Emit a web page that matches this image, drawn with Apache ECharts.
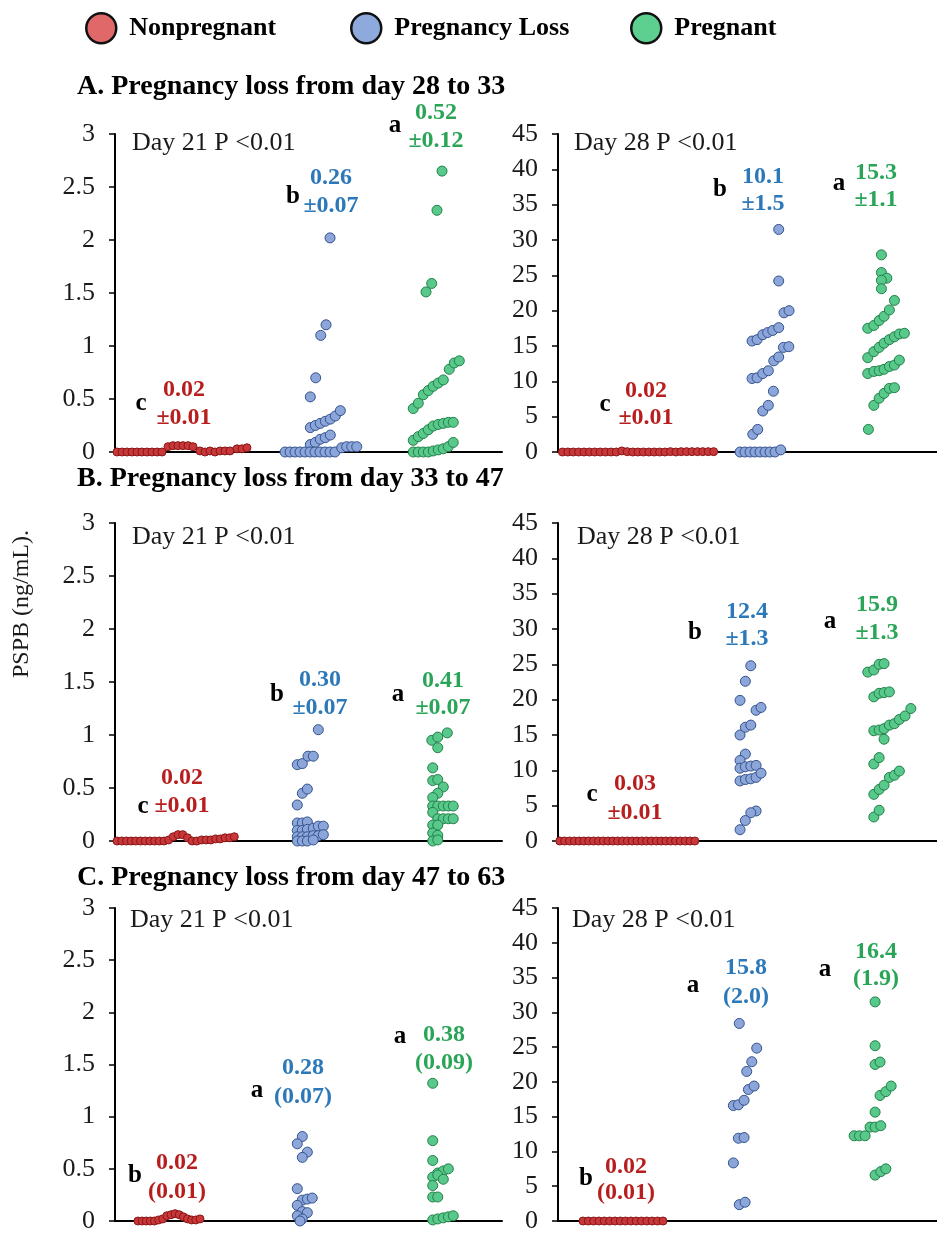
<!DOCTYPE html>
<html><head><meta charset="utf-8">
<script src="https://cdn.jsdelivr.net/npm/echarts@6/dist/echarts.min.js"></script>
<style>html,body{margin:0;padding:0;background:#fff}#c{width:937px;height:1234px}</style>
</head><body><div id="c"></div>
<script>
// ---------- labels ----------
const groupNames = ['Nonpregnant', 'Pregnancy Loss', 'Pregnant'];
const panelTitles = ['A. Pregnancy loss from day 28 to 33', 'B. Pregnancy loss from day 33 to 47', 'C. Pregnancy loss from day 47 to 63'];
const dayLabels = ['Day 21 P <0.01', 'Day 28 P <0.01'];
const yAxisName = 'PSPB (ng/mL).';
const day21Range = [0, 3, 0.5];
const day28Range = [0, 45, 5];

// ---------- data: [x position (1 = Nonpregnant, 2 = Pregnancy Loss, 3 = Pregnant, plus jitter), PSPB ng/mL] ----------
// Panel A, Day 21
const A21_non = [[0.516,0],[0.554,0],[0.593,0],[0.632,0],[0.671,0],[0.709,0],[0.748,0],[0.787,0],[0.826,0],[0.864,0],[0.911,0.05],[0.950,0.06],[0.988,0.06],[1.027,0.06],[1.066,0.06],[1.105,0.05],[1.159,0.01],[1.198,0],[1.236,0.01],[1.275,0],[1.314,0.01],[1.353,0.01],[1.391,0.01],[1.446,0.03],[1.484,0.03],[1.523,0.04]];
const A21_loss = [[2.167,2.02],[2.136,1.20],[2.095,1.10],[2.056,0.70],[2.014,0.52],[2.014,0.23],[2.053,0.25],[2.091,0.27],[2.130,0.29],[2.169,0.31],[2.208,0.34],[2.247,0.39],[2.014,0.07],[2.053,0.09],[2.091,0.12],[2.130,0.135],[2.169,0.16],[1.818,0],[1.857,0],[1.895,0],[1.934,0],[1.973,0],[2.012,0],[2.050,0],[2.089,0],[2.128,0],[2.167,0],[2.205,0],[2.257,0.04],[2.296,0.05],[2.335,0.05],[2.374,0.05]];
const A21_preg = [[3.035,2.65],[2.996,2.28],[2.955,1.59],[2.911,1.51],[2.812,0.41],[2.851,0.46],[2.890,0.54],[2.929,0.58],[2.967,0.62],[3.006,0.65],[3.045,0.68],[3.091,0.78],[3.130,0.84],[3.169,0.86],[2.812,0.11],[2.851,0.145],[2.890,0.175],[2.929,0.21],[2.967,0.245],[3.006,0.26],[3.045,0.27],[3.084,0.28],[3.122,0.28],[2.812,0],[2.851,0],[2.890,0],[2.929,0],[2.967,0.01],[3.006,0.02],[3.045,0.03],[3.084,0.05],[3.122,0.09]];
// Panel A, Day 28
const A28_non = [[0.492,0],[0.535,0],[0.578,0],[0.620,0],[0.663,0],[0.706,0],[0.749,0],[0.791,0],[0.834,0],[0.877,0],[0.920,0],[0.962,0],[1.005,0.15],[1.048,0.05],[1.091,0],[1.133,0],[1.176,0],[1.219,0],[1.262,0],[1.304,0],[1.347,0],[1.390,0.05],[1.433,0],[1.475,0.05],[1.518,0.05],[1.561,0.05],[1.604,0.05],[1.646,0.05],[1.689,0.05],[1.732,0.05]];
const A28_loss = [[2.247,31.5],[2.247,24.2],[2.289,19.7],[2.329,20.0],[2.036,15.7],[2.076,15.9],[2.121,16.6],[2.160,16.9],[2.200,17.2],[2.247,17.6],[2.284,14.8],[2.327,14.9],[2.208,12.9],[2.247,13.45],[2.036,10.4],[2.076,10.5],[2.121,11.1],[2.165,11.5],[2.205,8.6],[2.121,5.8],[2.165,6.6],[2.042,2.5],[2.081,3.2],[1.941,0],[1.980,0],[2.020,0],[2.059,0],[2.099,0],[2.139,0],[2.178,0],[2.218,0],[2.263,0.3]];
const A28_preg = [[3.060,27.9],[3.060,25.4],[3.103,24.6],[3.060,24.3],[3.060,23.1],[3.163,21.45],[2.952,17.5],[3.000,17.9],[3.042,18.6],[3.081,19.2],[3.123,20.1],[2.952,13.35],[3.000,14.2],[3.042,14.8],[3.081,15.4],[3.123,15.9],[3.163,16.3],[3.202,16.7],[3.242,16.8],[2.952,11.1],[3.000,11.4],[3.042,11.5],[3.081,11.7],[3.123,12.1],[3.163,12.3],[3.202,13.0],[3.000,6.6],[3.042,7.6],[3.081,8.3],[3.123,9.0],[3.163,9.1],[2.957,3.2]];
// Panel B, Day 21
const B21_non = [[0.516,0],[0.552,0],[0.589,0],[0.625,0],[0.661,0],[0.698,0],[0.734,0],[0.771,0],[0.807,0],[0.843,0],[0.880,0],[0.916,0.01],[0.952,0.04],[0.989,0.06],[1.025,0.06],[1.062,0.03],[1.098,0],[1.134,0],[1.171,0.01],[1.207,0.01],[1.243,0.01],[1.280,0.02],[1.316,0.02],[1.353,0.03],[1.389,0.03],[1.425,0.04]];
const B21_loss = [[2.076,1.05],[1.913,0.72],[1.952,0.73],[1.996,0.80],[2.037,0.80],[1.952,0.45],[1.991,0.49],[1.913,0.34],[1.913,0.17],[1.952,0.17],[1.991,0.18],[1.913,0.10],[1.952,0.10],[1.991,0.11],[2.037,0.12],[2.076,0.14],[2.115,0.14],[1.913,0.04],[1.952,0.04],[1.991,0.04],[2.037,0.05],[2.076,0.05],[2.115,0.06],[1.913,0],[1.952,0],[1.991,0],[2.037,0.01]];
const B21_preg = [[3.076,1.02],[2.956,0.95],[3.002,0.98],[3.002,0.88],[2.963,0.69],[2.963,0.57],[3.002,0.58],[3.045,0.51],[3.002,0.45],[2.963,0.41],[2.963,0.33],[3.002,0.33],[3.045,0.33],[3.084,0.33],[3.122,0.33],[2.963,0.27],[3.002,0.21],[3.045,0.21],[3.084,0.21],[3.122,0.21],[2.963,0.15],[3.002,0.15],[2.963,0.075],[3.002,0.054],[2.963,0],[3.002,0.01]];
// Panel B, Day 28
const B28_non = [[0.476,0],[0.514,0],[0.552,0],[0.591,0],[0.629,0],[0.667,0],[0.705,0],[0.743,0],[0.781,0],[0.820,0],[0.858,0],[0.896,0],[0.934,0],[0.972,0],[1.010,0],[1.049,0],[1.087,0],[1.125,0],[1.163,0],[1.201,0],[1.239,0],[1.278,0],[1.316,0],[1.354,0],[1.392,0],[1.430,0],[1.468,0],[1.507,0],[1.545,0],[1.583,0]];
const B28_loss = [[2.026,24.8],[1.983,22.6],[1.941,19.9],[2.068,18.5],[2.107,18.9],[1.941,15.0],[1.983,16.1],[2.026,16.4],[1.983,12.3],[1.941,11.4],[1.941,10.3],[1.983,10.5],[2.026,10.6],[2.068,10.7],[1.941,8.5],[1.983,8.7],[2.026,8.8],[2.068,9.0],[2.107,9.6],[2.068,4.25],[2.026,4.0],[1.983,2.9],[1.941,1.6]];
const B28_preg = [[2.952,23.9],[3.000,24.2],[3.042,25.0],[3.081,25.1],[3.000,20.4],[3.042,20.9],[3.081,21.0],[3.123,21.1],[3.000,15.6],[3.042,15.7],[3.081,15.9],[3.123,16.4],[3.163,16.6],[3.202,17.2],[3.247,17.7],[3.293,18.75],[3.081,14.4],[3.000,10.9],[3.042,11.8],[3.000,6.6],[3.042,7.3],[3.081,7.9],[3.123,9.0],[3.163,9.3],[3.202,9.9],[3.000,3.4],[3.042,4.35]];
// Panel C, Day 21
const C21_non = [[0.678,0],[0.710,0],[0.742,0],[0.774,0],[0.806,0],[0.838,0.01],[0.870,0.02],[0.902,0.05],[0.934,0.06],[0.966,0.07],[0.998,0.06],[1.030,0.04],[1.062,0.02],[1.094,0.01],[1.126,0.01],[1.159,0.02]];
const C21_loss = [[1.952,0.81],[1.913,0.74],[1.991,0.66],[1.952,0.61],[1.913,0.31],[1.952,0.20],[1.991,0.21],[2.029,0.22],[1.913,0.15],[1.952,0.09],[1.991,0.08],[1.913,0.05],[1.952,0.02],[1.934,0]];
const C21_preg = [[2.963,1.32],[2.963,0.77],[2.963,0.58],[3.002,0.46],[3.045,0.48],[3.084,0.50],[2.963,0.42],[3.002,0.44],[3.045,0.40],[2.963,0.34],[2.963,0.23],[3.002,0.23],[2.963,0.01],[3.002,0.02],[3.045,0.03],[3.084,0.04],[3.122,0.05]];
// Panel C, Day 28
const C28_non = [[0.698,0],[0.740,0],[0.782,0],[0.824,0],[0.866,0],[0.909,0],[0.951,0],[0.993,0],[1.035,0],[1.077,0],[1.119,0],[1.161,0],[1.203,0],[1.245,0],[1.288,0],[1.331,0]];
const C28_loss = [[1.935,28.4],[2.073,24.85],[2.034,22.9],[1.994,21.5],[2.007,18.9],[2.052,19.4],[1.888,16.6],[1.928,16.7],[1.973,17.35],[1.928,11.9],[1.973,12.0],[1.888,8.35],[1.935,2.35],[1.981,2.7]];
const C28_preg = [[3.010,31.5],[3.010,25.2],[3.010,22.5],[3.049,22.85],[3.049,18.05],[3.095,18.6],[3.137,19.4],[3.010,15.65],[2.970,13.5],[3.010,13.5],[3.055,13.7],[2.844,12.25],[2.886,12.25],[2.931,12.25],[3.010,6.6],[3.055,7.1],[3.095,7.5]];

// group means (SEM) as printed, and significance letters
const statsText = [
  [['c','0.02','±0.01'],['b','0.26','±0.07'],['a','0.52','±0.12']],
  [['c','0.02','±0.01'],['b','10.1','±1.5'],['a','15.3','±1.1']],
  [['c','0.02','±0.01'],['b','0.30','±0.07'],['a','0.41','±0.07']],
  [['c','0.03','±0.01'],['b','12.4','±1.3'],['a','15.9','±1.3']],
  [['b','0.02','(0.01)'],['a','0.28','(0.07)'],['a','0.38','(0.09)']],
  [['b','0.02','(0.01)'],['a','15.8','(2.0)'],['a','16.4','(1.9)']]
];

const panels = [
  [A21_non, A21_loss, A21_preg], [A28_non, A28_loss, A28_preg],
  [B21_non, B21_loss, B21_preg], [B28_non, B28_loss, B28_preg],
  [C21_non, C21_loss, C21_preg], [C28_non, C28_loss, C28_preg]
];

// ---------- style ----------
const SERIF = '"Liberation Serif","Times New Roman",serif';
const fills = ['#C8383A', '#8CA6DA', '#58C98A'];
const borders = ['#8A1616', '#34538E', '#23804A'];
const legendFills = ['#E06868', '#8EA9DC', '#5DD090'];
const textColors = ['#B81E1E', '#2C78B9', '#2AA558'];
const dotSizes = [8, 10, 10];

const gridBoxes = [
  {left:115, top:134, width:387, height:318}, {left:558, top:134, width:379, height:318},
  {left:115, top:523, width:387, height:318}, {left:558, top:523, width:379, height:318},
  {left:115, top:908, width:387, height:317}, {left:558, top:908, width:379, height:317}
];

const grid = gridBoxes.map(b => Object.assign({containLabel:false}, b));
const xAxis = gridBoxes.map((b, i) => ({
  type:'value', gridIndex:i, min:0.5, max:3.5,
  axisLine:{show:true, onZero:false, lineStyle:{color:'#000', width:2}},
  axisTick:{show:false}, axisLabel:{show:false}, splitLine:{show:false}
}));
const yAxis = gridBoxes.map((b, i) => {
  const r = (i % 2 === 0) ? day21Range : day28Range;
  return {
    type:'value', gridIndex:i, min:r[0], max:r[1], interval:r[2],
    axisLine:{show:true, lineStyle:{color:'#000', width:2}},
    axisTick:{show:true, inside:false, length:6, lineStyle:{color:'#000', width:1.5}},
    axisLabel:{color:'#1a1a1a', fontFamily:SERIF, fontSize:26, margin:20},
    splitLine:{show:false}
  };
});

const series = [];
panels.forEach((p, i) => {
  p.forEach((data, g) => {
    series.push({
      type:'scatter', name:groupNames[g], xAxisIndex:i, yAxisIndex:i,
      data:data, symbol:'circle', symbolSize:dotSizes[g], z:2 + g,
      itemStyle:{color:fills[g], borderColor:borders[g], borderWidth:1, opacity:1},
      emphasis:{disabled:true}, silent:true
    });
  });
});

// annotation anchor positions (text layout)
const annPos = [
  [[141,404,184,390,418],[293,197,331,178,206],[395,126,436,113,141]],
  [[605,405,646,391,418],[720,190,763,177,204],[839,184,876,173,200]],
  [[143,807,182,778,806],[277,695,320,680,708],[398,695,443,681,708]],
  [[592,795,635,784,813],[695,633,747,612,639],[830,622,877,605,633]],
  [[135,1176,177,1163,1192],[257,1091,303,1068,1097],[400,1037,444,1035,1063]],
  [[586,1179,626,1167,1193],[693,986,746,968,997],[825,970,876,952,979]]
];

const graphic = [];
const txt = (x, y, s, opt) => graphic.push({type:'text', x:x, y:y, silent:true,
  style:Object.assign({text:s, fontFamily:SERIF, fill:'#000', align:'left', verticalAlign:'middle'}, opt)});

// panel titles
[87, 479, 878].forEach((y, r) => txt(77, y, panelTitles[r], {fontSize:28, fontWeight:'bold'}));
// day labels
[[132,143],[574,143],[132,537],[577,537],[130,920],[572,920]].forEach((p, i) =>
  txt(p[0], p[1], dayLabels[i % 2], {fontSize:26, fill:'#1a1a1a'}));
// y axis name
graphic.push({type:'text', x:22, y:604, rotation:Math.PI/2, silent:true,
  style:{text:yAxisName, fontFamily:SERIF, fontSize:24, fill:'#1a1a1a', align:'center', verticalAlign:'middle'}});
// stats annotations
statsText.forEach((panel, i) => panel.forEach((s, g) => {
  const a = annPos[i][g];
  txt(a[0], a[1], s[0], {fontSize:25, fontWeight:'bold', align:'center'});
  txt(a[2], a[3], s[1], {fontSize:24, fontWeight:'bold', align:'center', fill:textColors[g]});
  txt(a[2], a[4], s[2], {fontSize:24, fontWeight:'bold', align:'center', fill:textColors[g]});
}));

const legendLefts = [80, 345, 625];
const legend = groupNames.map((n, g) => ({
  left:legendLefts[g], top:7, itemWidth:30, itemHeight:30, selectedMode:false,
  data:[{name:n, icon:'circle', itemStyle:{color:legendFills[g], borderColor:'#111', borderWidth:2.5}}],
  textStyle:{fontFamily:SERIF, fontSize:26, fontWeight:'bold', color:'#000', padding:[0,0,0,8]}
}));

const chart = echarts.init(document.getElementById('c'), null, {renderer:'canvas'});
chart.setOption({
  animation:false, backgroundColor:'#fff',
  grid:grid, xAxis:xAxis, yAxis:yAxis, series:series, legend:legend, graphic:graphic
});
</script></body></html>
